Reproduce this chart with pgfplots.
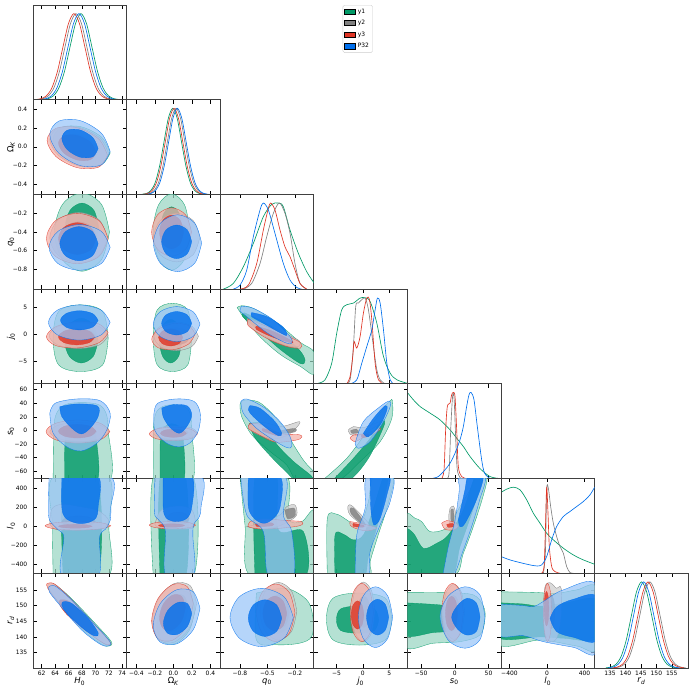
\documentclass[border=0pt]{standalone}
\usepackage{fontspec}
\setmainfont{DejaVu Sans}
\usepackage{pgfplots}
\pgfplotsset{compat=1.18}

\definecolor{cG}{HTML}{009966}
\definecolor{cK}{RGB}{128,128,128}
\definecolor{cR}{HTML}{E03424}
\definecolor{cB}{HTML}{006FED}

\pgfplotsset{
  tri/.style={scale only axis, width=93.6bp, height=94.7bp, anchor=south west,
    enlargelimits=false, clip=true,
    axis line style={draw=black!75, line width=0.8bp},
    tick align=inside, major tick length=3.8bp,
    tick style={black, line width=0.55bp},
    xticklabels={}, yticklabels={},
    tick label style={font=\fontsize{6}{7}\selectfont, inner sep=0pt},
    xticklabel style={yshift=-3bp},
    yticklabel style={xshift=-5.5bp},
    every axis x label/.style={at={(axis description cs:0.5,-0.143)}, anchor=center, font=\fontsize{8.5}{10}\selectfont},
    every axis y label/.style={at={(axis description cs:-0.235,0.5)}, anchor=center, rotate=90, font=\fontsize{8.5}{10}\selectfont}},
  oned/.style={ymin=0, ymax=1.1, ytick=\empty},
  Lo/.style={smooth, tension=0.55, draw=#1, line width=0.35bp, fill=#1!40!white, fill opacity=0.72, draw opacity=0.85},
  Li/.style={smooth, tension=0.55, draw=#1, line width=0.35bp, fill=#1, fill opacity=0.8, draw opacity=0.85},
  Ln/.style={smooth, tension=0.5, draw=#1, line width=0.65bp},
  % columns (x)
  cx0/.style={xmin=60.7, xmax=74.65, xtick={62,64,66,68,70,72,74}},
  cx1/.style={xmin=-0.505, xmax=0.505, xtick={-0.4,-0.2,0,0.2,0.4}},
  cx2/.style={xmin=-1.015, xmax=0.005, xtick={-0.8,-0.5,-0.2}},
  cx3/.style={xmin=-9.3, xmax=8.45, xtick={-5,0,5}},
  cx4/.style={xmin=-70.5, xmax=68.5, xtick={-50,0,50}},
  cx5/.style={xmin=-490, xmax=507, xtick={-400,0,400}},
  cx6/.style={xmin=130, xmax=160.3, xtick={135,140,145,150,155}},
  % rows (y)
  ry1/.style={ymin=-0.508, ymax=0.502, ytick={-0.4,-0.2,0,0.2,0.4}},
  ry2/.style={ymin=-1.012, ymax=0.003, ytick={-0.8,-0.6,-0.4,-0.2}},
  ry3/.style={ymin=-9.3, ymax=8.45, ytick={-5,0,5}},
  ry4/.style={ymin=-70.5, ymax=68.5, ytick={-60,-40,-20,0,20,40,60}},
  ry5/.style={ymin=-492, ymax=500, ytick={-400,-200,0,200,400}},
  ry6/.style={ymin=130.1, ymax=160.3, ytick={135,140,145,150,155}},
  % labels
  bx0/.style={xticklabels={62,64,66,68,70,72,74}, xlabel={\textit{H}\textsubscript{0}}},
  bx1/.style={xticklabels={−0.4,−0.2,0.0,0.2,0.4}, xlabel={Ω\textsubscript{\textit{K}}}},
  bx2/.style={xticklabels={−0.8,−0.5,−0.2}, xlabel={\textit{q}\textsubscript{0}}},
  bx3/.style={xticklabels={−5,0,5}, xlabel={\textit{j}\textsubscript{0}}},
  bx4/.style={xticklabels={−50,0,50}, xlabel={\textit{s}\textsubscript{0}}},
  bx5/.style={xticklabels={−400,0,400}, xlabel={\textit{l}\textsubscript{0}}},
  bx6/.style={xticklabels={135,140,145,150,155}, xlabel={\textit{r}\textsubscript{\textit{d}}}},
  ly1/.style={yticklabels={−0.4,−0.2,0.0,0.2,0.4}, ylabel={Ω\textsubscript{\textit{K}}}},
  ly2/.style={yticklabels={−0.8,−0.6,−0.4,−0.2}, ylabel={\textit{q}\textsubscript{0}}},
  ly3/.style={yticklabels={−5,0,5}, ylabel={\textit{j}\textsubscript{0}}},
  ly4/.style={yticklabels={−60,−40,−20,0,20,40,60}, ylabel={\textit{s}\textsubscript{0}}},
  ly5/.style={yticklabels={−400,−200,0,200,400}, ylabel={\textit{l}\textsubscript{0}}},
  ly6/.style={yticklabels={135,140,145,150,155}, ylabel={\textit{r}\textsubscript{\textit{d}}}},
}

\begin{document}
\begin{tikzpicture}
\useasboundingbox (0,0) rectangle (693bp,694bp);

%================ diagonal: 1D marginals ================
% H0
\begin{axis}[tri, at={(33bp,594.29bp)}, cx0, oned,
  legend image code/.code={\fill[sharp corners, #1] (0bp,-2.6bp) rectangle (11bp,2.6bp);},
  legend style={at={(axis description cs:3.309,1)}, anchor=north west, draw=black!20, rounded corners=1.5bp,
    fill=white, font=\fontsize{6}{7}\selectfont, inner sep=1.5bp, row sep=1.6bp, cells={anchor=west}}]
\addplot[Ln=cG, forget plot] coordinates {(62.08,.0022)(62.9,.0111)(63.73,.0439)(64.55,.1353)(65.38,.3247)(66.2,.6065)(67.03,.8825)(67.85,1)(68.68,.8825)(69.5,.6065)(70.33,.3247)(71.15,.1353)(71.98,.0439)(72.8,.0111)(73.63,.0022)};
\addplot[Ln=cK, forget plot] coordinates {(61.33,.0022)(62.15,.0111)(62.98,.0439)(63.8,.1353)(64.63,.3247)(65.45,.6065)(66.28,.8825)(67.1,1)(67.93,.8825)(68.75,.6065)(69.58,.3247)(70.4,.1353)(71.23,.0439)(72.05,.0111)(72.88,.0022)};
\addplot[Ln=cR, forget plot] coordinates {(61.03,.0022)(61.85,.0111)(62.68,.0439)(63.5,.1353)(64.33,.3247)(65.15,.6065)(65.98,.8825)(66.8,1)(67.63,.8825)(68.45,.6065)(69.28,.3247)(70.1,.1353)(70.93,.0439)(71.75,.0111)(72.58,.0022)};
\addplot[Ln=cB, forget plot] coordinates {(61.78,.0022)(62.6,.0111)(63.43,.0439)(64.25,.1353)(65.08,.3247)(65.9,.6065)(66.73,.8825)(67.55,1)(68.38,.8825)(69.2,.6065)(70.03,.3247)(70.85,.1353)(71.68,.0439)(72.5,.0111)(73.33,.0022)};
\addlegendimage{fill=cG}\addlegendentry{y1}
\addlegendimage{fill=cK}\addlegendentry{y2}
\addlegendimage{fill=cR}\addlegendentry{y3}
\addlegendimage{fill=cB}\addlegendentry{P32}
\end{axis}

% Omega_K
\begin{axis}[tri, at={(126.6bp,499.58bp)}, cx1, oned]
\addplot[Ln=cG] coordinates {(-0.34,.0022)(-0.292,.0111)(-0.245,.0439)(-0.197,.1353)(-0.15,.3247)(-0.102,.6065)(-0.055,.8825)(-0.007,1)(0.041,.8825)(0.088,.6065)(0.136,.3247)(0.183,.1353)(0.231,.0439)(0.278,.0111)(0.326,.0022)};
\addplot[Ln=cK] coordinates {(-0.304,.0022)(-0.256,.0111)(-0.209,.0439)(-0.161,.1353)(-0.114,.3247)(-0.066,.6065)(-0.019,.8825)(0.029,1)(0.077,.8825)(0.124,.6065)(0.172,.3247)(0.219,.1353)(0.267,.0439)(0.314,.0111)(0.362,.0022)};
\addplot[Ln=cR] coordinates {(-0.326,.0022)(-0.278,.0111)(-0.231,.0439)(-0.183,.1353)(-0.136,.3247)(-0.088,.6065)(-0.041,.8825)(0.007,1)(0.055,.8825)(0.102,.6065)(0.15,.3247)(0.197,.1353)(0.245,.0439)(0.292,.0111)(0.34,.0022)};
\addplot[Ln=cB] coordinates {(-0.29,.0022)(-0.242,.0111)(-0.195,.0439)(-0.147,.1353)(-0.1,.3247)(-0.052,.6065)(-0.005,.8825)(0.043,1)(0.091,.8825)(0.138,.6065)(0.186,.3247)(0.233,.1353)(0.281,.0439)(0.328,.0111)(0.376,.0022)};
\end{axis}

% q0
\begin{axis}[tri, at={(220.2bp,404.87bp)}, cx2, oned]
\addplot[Ln=cG] coordinates {(-0.981,0)(-0.872,.066)(-0.763,.26)(-0.654,.531)(-0.545,.841)(-0.454,.984)(-0.381,1.0)(-0.327,.957)(-0.254,.686)(-0.163,.415)(-0.072,.202)(0.007,.074)};
\addplot[Ln=cK] coordinates {(-0.763,0)(-0.672,.066)(-0.581,.298)(-0.508,.609)(-0.436,.88)(-0.37,1.0)(-0.309,.88)(-0.254,.647)(-0.2,.298)(-0.145,.066)(-0.072,0)};
\addplot[Ln=cR] coordinates {(-0.799,0)(-0.708,.047)(-0.617,.298)(-0.545,.686)(-0.49,.938)(-0.465,1.0)(-0.418,.919)(-0.363,.686)(-0.309,.492)(-0.254,.376)(-0.2,.221)(-0.145,.066)(-0.072,0)};
\addplot[Ln=cB] coordinates {(-0.872,0)(-0.799,.047)(-0.726,.221)(-0.654,.609)(-0.581,.919)(-0.545,1.0)(-0.49,.919)(-0.418,.647)(-0.327,.298)(-0.254,.105)(-0.181,.019)(-0.127,0)};
\end{axis}

% j0
\begin{axis}[tri, at={(313.8bp,310.16bp)}, cx3, oned]
\addplot[Ln=cG] coordinates {(-8.44,.008)(-7.17,.047)(-5.9,.24)(-4.95,.589)(-4.0,.86)(-3.05,.919)(-1.79,.938)(-0.52,.996)(0.43,1.0)(1.38,.957)(2.65,.705)(3.91,.318)(5.18,.124)(6.45,.047)(8.35,.008)};
\addplot[Ln=cK] coordinates {(-3.37,0)(-2.42,.047)(-1.79,.434)(-1.35,.9)(-0.84,.938)(-0.2,.977)(0.43,.996)(1.06,.86)(2.01,.434)(2.65,.163)(3.28,.047)(4.23,0)};
\addplot[Ln=cR] coordinates {(-3.05,0)(-2.42,.085)(-1.91,.318)(-1.66,.492)(-1.15,.415)(-0.52,.55)(0.11,.822)(0.75,.996)(1.25,.977)(1.7,.744)(2.33,.24)(2.96,.047)(3.91,0)};
\addplot[Ln=cB] coordinates {(-2.42,0)(-1.15,.047)(-0.2,.24)(0.75,.434)(1.7,.628)(2.33,.86)(2.77,.996)(3.28,.938)(3.91,.628)(4.55,.24)(5.18,.047)(5.81,0)};
\end{axis}

% s0
\begin{axis}[tri, at={(407.4bp,215.45bp)}, cx4, oned]
\addplot[Ln=cG] coordinates {(-70.6,1.0)(-61.7,.915)(-51.8,.837)(-36.9,.76)(-22.1,.682)(-7.2,.566)(2.7,.469)(12.6,.372)(22.5,.256)(36.8,.12)(52.2,.023)(67,0)};
\addplot[Ln=cK] coordinates {(-12.2,0)(-8.7,.062)(-6.2,.566)(-3.8,.915)(-2.3,.992)(-0.8,.876)(1.7,.372)(3.6,.101)(7.6,.012)(12.6,0)};
\addplot[Ln=cR] coordinates {(-19.6,0)(-16.1,.101)(-13.7,.566)(-11.2,.837)(-7.2,.876)(-4.8,.973)(-2.3,1.0)(0.2,.953)(2.7,.566)(5.1,.14)(10.1,.023)(17.5,0)};
\addplot[Ln=cB] coordinates {(-34.5,0)(-24.6,.023)(-14.7,.101)(-7.2,.178)(0.2,.295)(7.6,.45)(12.6,.605)(17.5,.837)(21,.973)(24,1.0)(28.4,.915)(33.3,.605)(39.8,.217)(44.2,.062)(52.2,0)};
\end{axis}

% l0
\begin{axis}[tri, at={(501.0bp,120.74bp)}, cx5, oned]
\addplot[Ln=cG] coordinates {(-490,.938)(-429.7,.977)(-358.7,1.0)(-287.7,.969)(-216.7,.853)(-145.6,.698)(-74.1,.581)(-3.6,.465)(67.3,.388)(173.9,.291)(280.3,.213)(386.8,.155)(507,.105)};
\addplot[Ln=cK] coordinates {(-38.7,0)(-17.3,.233)(-3.6,.969)(14,.988)(39,.775)(67.3,.581)(102.9,.426)(138.3,.31)(173.9,.233)(209.3,.078)(244.8,.008)(280.3,0)};
\addplot[Ln=cR] coordinates {(-56.9,0)(-31.5,.078)(-17.3,.504)(-3.6,1.0)(10.5,.698)(24.7,.31)(49.7,.078)(85.1,.019)(138.3,0)};
\addplot[Ln=cB] coordinates {(-490,.194)(-394.2,.155)(-287.7,.124)(-180.8,.097)(-110.2,.085)(-56.9,.097)(-3.6,.194)(49.7,.388)(102.9,.543)(173.9,.659)(244.8,.717)(315.8,.775)(386.8,.833)(457.8,.911)(507,1.0)};
\end{axis}

% r_d
\begin{axis}[tri, at={(594.6bp,26.03bp)}, cx6, oned, bx6]
\addplot[Ln=cG] coordinates {(133.65,.0022)(135.3,.0111)(136.95,.0439)(138.6,.1353)(140.25,.3247)(141.9,.6065)(143.55,.8825)(145.2,1)(146.85,.8825)(148.5,.6065)(150.15,.3247)(151.8,.1353)(153.45,.0439)(155.1,.0111)(156.75,.0022)};
\addplot[Ln=cK] coordinates {(136.35,.0022)(138,.0111)(139.65,.0439)(141.3,.1353)(142.95,.3247)(144.6,.6065)(146.25,.8825)(147.9,1)(149.55,.8825)(151.2,.6065)(152.85,.3247)(154.5,.1353)(156.15,.0439)(157.8,.0111)(159.45,.0022)};
\addplot[Ln=cR] coordinates {(135.75,.0022)(137.4,.0111)(139.05,.0439)(140.7,.1353)(142.35,.3247)(144,.6065)(145.65,.8825)(147.3,1)(148.95,.8825)(150.6,.6065)(152.25,.3247)(153.9,.1353)(155.55,.0439)(157.2,.0111)(158.85,.0022)};
\addplot[Ln=cB] coordinates {(134.35,.0022)(136,.0111)(137.65,.0439)(139.3,.1353)(140.95,.3247)(142.6,.6065)(144.25,.8825)(145.9,1)(147.55,.8825)(149.2,.6065)(150.85,.3247)(152.5,.1353)(154.15,.0439)(155.8,.0111)(157.45,.0022)};
\end{axis}

%================ row 1: Omega_K ================
\begin{axis}[tri, at={(33bp,499.58bp)}, cx0, ry1, ly1]
\addplot[Lo=cG] coordinates {(72.2,-0.066)(70.96,0.1)(67.95,0.212)(64.95,0.207)(63.7,0.086)(64.95,-0.08)(67.95,-0.192)(70.96,-0.187)(72.2,-0.066)} -- cycle;
\addplot[Li=cG] coordinates {(70.55,-0.037)(69.79,0.066)(67.95,0.136)(66.11,0.132)(65.35,0.057)(66.11,-0.046)(67.95,-0.116)(69.79,-0.112)(70.55,-0.037)} -- cycle;
\addplot[Lo=cK] coordinates {(72.0,-0.077)(70.71,0.091)(67.6,0.206)(64.49,0.2)(63.2,0.077)(64.49,-0.091)(67.6,-0.206)(70.71,-0.2)(72.0,-0.077)} -- cycle;
\addplot[Li=cK] coordinates {(70.3,-0.048)(69.51,0.056)(67.6,0.127)(65.69,0.124)(64.9,0.048)(65.69,-0.056)(67.6,-0.127)(69.51,-0.124)(70.3,-0.048)} -- cycle;
\addplot[Lo=cR] coordinates {(71.8,-0.089)(70.48,0.084)(67.3,0.203)(64.12,0.197)(62.8,0.069)(64.12,-0.104)(67.3,-0.223)(70.48,-0.217)(71.8,-0.089)} -- cycle;
\addplot[Li=cR] coordinates {(70.1,-0.059)(69.28,0.048)(67.3,0.121)(65.32,0.117)(64.5,0.039)(65.32,-0.068)(67.3,-0.141)(69.28,-0.137)(70.1,-0.059)} -- cycle;
\addplot[Lo=cB] coordinates {(72.2,-0.05)(70.88,0.146)(67.7,0.28)(64.52,0.273)(63.2,0.13)(64.52,-0.066)(67.7,-0.2)(70.88,-0.193)(72.2,-0.05)} -- cycle;
\addplot[Li=cB] coordinates {(70.4,-0.019)(69.61,0.099)(67.7,0.18)(65.79,0.176)(65.0,0.089)(65.79,-0.029)(67.7,-0.11)(69.61,-0.106)(70.4,-0.019)} -- cycle;
\end{axis}

%================ row 2: q0 ================
\begin{axis}[tri, at={(33bp,404.87bp)}, cx0, ry2, ly2]
\addplot[Lo=cG] coordinates {(72.1,-0.4)(70.9,-0.103)(68.0,0.02)(65.1,-0.103)(63.9,-0.4)(65.1,-0.697)(68.0,-0.82)(70.9,-0.697)(72.1,-0.4)} -- cycle;
\addplot[Li=cG] coordinates {(70.5,-0.35)(69.77,-0.166)(68,-0.09)(66.23,-0.166)(65.5,-0.35)(66.23,-0.534)(68,-0.61)(69.77,-0.534)(70.5,-0.35)} -- cycle;
\addplot[Lo=cK] coordinates {(71.8,-0.46)(70.54,-0.269)(67.5,-0.19)(64.46,-0.269)(63.2,-0.46)(64.46,-0.651)(67.5,-0.73)(70.54,-0.651)(71.8,-0.46)} -- cycle;
\addplot[Li=cK] coordinates {(70.2,-0.46)(69.41,-0.34)(67.5,-0.29)(65.59,-0.34)(64.8,-0.46)(65.59,-0.58)(67.5,-0.63)(69.41,-0.58)(70.2,-0.46)} -- cycle;
\addplot[Lo=cR] coordinates {(71.9,-0.47)(70.55,-0.279)(67.3,-0.2)(64.05,-0.279)(62.7,-0.47)(64.05,-0.661)(67.3,-0.74)(70.55,-0.661)(71.9,-0.47)} -- cycle;
\addplot[Li=cR] coordinates {(70.1,-0.47)(69.28,-0.35)(67.3,-0.3)(65.32,-0.35)(64.5,-0.47)(65.32,-0.59)(67.3,-0.64)(69.28,-0.59)(70.1,-0.47)} -- cycle;
\addplot[Lo=cB] coordinates {(72.2,-0.565)(70.87,-0.392)(67.65,-0.32)(64.43,-0.392)(63.1,-0.565)(64.43,-0.738)(67.65,-0.81)(70.87,-0.738)(72.2,-0.565)} -- cycle;
\addplot[Li=cB] coordinates {(70.4,-0.525)(69.57,-0.396)(67.55,-0.342)(65.54,-0.396)(64.7,-0.525)(65.54,-0.654)(67.55,-0.708)(69.57,-0.654)(70.4,-0.525)} -- cycle;
\end{axis}

\begin{axis}[tri, at={(126.6bp,404.87bp)}, cx1, ry2]
\addplot[Lo=cG] coordinates {(0.18,-0.4)(0.121,-0.11)(-0.02,0.01)(-0.161,-0.11)(-0.22,-0.4)(-0.161,-0.69)(-0.02,-0.81)(0.121,-0.69)(0.18,-0.4)} -- cycle;
\addplot[Li=cG] coordinates {(0.1,-0.38)(0.065,-0.203)(-0.02,-0.13)(-0.105,-0.203)(-0.14,-0.38)(-0.105,-0.557)(-0.02,-0.63)(0.065,-0.557)(0.1,-0.38)} -- cycle;
\addplot[Lo=cK] coordinates {(0.285,-0.46)(0.212,-0.276)(0.035,-0.2)(-0.142,-0.276)(-0.215,-0.46)(-0.142,-0.644)(0.035,-0.72)(0.212,-0.644)(0.285,-0.46)} -- cycle;
\addplot[Li=cK] coordinates {(0.185,-0.46)(0.141,-0.347)(0.035,-0.3)(-0.071,-0.347)(-0.115,-0.46)(-0.071,-0.573)(0.035,-0.62)(0.141,-0.573)(0.185,-0.46)} -- cycle;
\addplot[Lo=cR] coordinates {(0.195,-0.4)(0.132,-0.216)(-0.02,-0.14)(-0.172,-0.216)(-0.235,-0.4)(-0.172,-0.584)(-0.02,-0.66)(0.132,-0.584)(0.195,-0.4)} -- cycle;
\addplot[Li=cR] coordinates {(0.11,-0.4)(0.072,-0.273)(-0.02,-0.22)(-0.112,-0.273)(-0.15,-0.4)(-0.112,-0.527)(-0.02,-0.58)(0.072,-0.527)(0.11,-0.4)} -- cycle;
\addplot[Lo=cB] coordinates {(0.305,-0.52)(0.229,-0.304)(0.045,-0.215)(-0.139,-0.304)(-0.215,-0.52)(-0.139,-0.736)(0.045,-0.825)(0.229,-0.736)(0.305,-0.52)} -- cycle;
\addplot[Li=cB] coordinates {(0.197,-0.505)(0.15,-0.378)(0.035,-0.325)(-0.08,-0.378)(-0.127,-0.505)(-0.08,-0.632)(0.035,-0.685)(0.15,-0.632)(0.197,-0.505)} -- cycle;
\end{axis}

%================ row 3: j0 ================
\begin{axis}[tri, at={(33bp,310.16bp)}, cx0, ry3, ly3]
\addplot[Lo=cG] coordinates {(71.9,-0.75)(71.08,4.25)(67.8,5.5)(64.52,4.25)(63.7,-0.75)(64.52,-5.75)(67.8,-7.0)(71.08,-5.75)(71.9,-0.75)} -- cycle;
\addplot[Li=cG] coordinates {(70.4,-1.2)(69.67,1.77)(67.9,3.0)(66.13,1.77)(65.4,-1.2)(66.13,-4.17)(67.9,-5.4)(69.67,-4.17)(70.4,-1.2)} -- cycle;
\addplot[Lo=cK] coordinates {(71.9,-0.3)(70.61,1.4)(67.5,2.1)(64.39,1.4)(63.1,-0.3)(64.39,-2.0)(67.5,-2.7)(70.61,-2.0)(71.9,-0.3)} -- cycle;
\addplot[Li=cK] coordinates {(70.1,-0.4)(69.34,0.59)(67.5,1.0)(65.66,0.59)(64.9,-0.4)(65.66,-1.39)(67.5,-1.8)(69.34,-1.39)(70.1,-0.4)} -- cycle;
\addplot[Lo=cR] coordinates {(71.9,0.275)(70.55,1.91)(67.3,2.37)(64.05,1.38)(62.7,-0.475)(64.05,-2.11)(67.3,-2.57)(70.55,-1.58)(71.9,0.275)} -- cycle;
\addplot[Li=cR] coordinates {(69.9,-0.5)(69.11,0.56)(67.2,1.0)(65.29,0.56)(64.5,-0.5)(65.29,-1.56)(67.2,-2.0)(69.11,-1.56)(69.9,-0.5)} -- cycle;
\addplot[Lo=cB] coordinates {(72.2,2.2)(70.85,4.53)(67.6,5.5)(64.35,4.53)(63.0,2.2)(64.35,-0.13)(67.6,-1.1)(70.85,-0.13)(72.2,2.2)} -- cycle;
\addplot[Li=cB] coordinates {(70.4,2.6)(69.58,3.87)(67.6,4.4)(65.62,3.87)(64.8,2.6)(65.62,1.33)(67.6,0.8)(69.58,1.33)(70.4,2.6)} -- cycle;
\end{axis}

\begin{axis}[tri, at={(126.6bp,310.16bp)}, cx1, ry3]
\addplot[Lo=cG] coordinates {(0.197,-0.6)(0.156,4.52)(-0.01,5.8)(-0.176,4.52)(-0.217,-0.6)(-0.176,-5.72)(-0.01,-7.0)(0.156,-5.72)(0.197,-0.6)} -- cycle;
\addplot[Li=cG] coordinates {(0.09,-1.3)(0.055,1.6)(-0.03,2.8)(-0.115,1.6)(-0.15,-1.3)(-0.115,-4.2)(-0.03,-5.4)(0.055,-4.2)(0.09,-1.3)} -- cycle;
\addplot[Lo=cK] coordinates {(0.27,-0.4)(0.2,1.51)(0.03,2.3)(-0.14,1.51)(-0.21,-0.4)(-0.14,-2.31)(0.03,-3.1)(0.2,-2.31)(0.27,-0.4)} -- cycle;
\addplot[Li=cK] coordinates {(0.18,-0.4)(0.136,0.73)(0.03,1.2)(-0.076,0.73)(-0.12,-0.4)(-0.076,-1.53)(0.03,-2.0)(0.136,-1.53)(0.18,-0.4)} -- cycle;
\addplot[Lo=cR] coordinates {(0.234,0.05)(0.165,1.635)(0,2.0)(-0.165,0.928)(-0.234,-0.95)(-0.165,-2.535)(0,-2.9)(0.165,-1.828)(0.234,0.05)} -- cycle;
\addplot[Li=cR] coordinates {(0.1,-0.6)(0.062,0.53)(-0.03,1.0)(-0.122,0.53)(-0.16,-0.6)(-0.122,-1.73)(-0.03,-2.2)(0.062,-1.73)(0.1,-0.6)} -- cycle;
\addplot[Lo=cB] coordinates {(0.287,1.9)(0.213,4.22)(0.035,5.18)(-0.143,4.22)(-0.217,1.9)(-0.143,-0.42)(0.035,-1.38)(0.213,-0.42)(0.287,1.9)} -- cycle;
\addplot[Li=cB] coordinates {(0.197,2.05)(0.15,3.61)(0.035,4.25)(-0.08,3.61)(-0.127,2.05)(-0.08,0.49)(0.035,-0.15)(0.15,0.49)(0.197,2.05)} -- cycle;
\end{axis}

\begin{axis}[tri, at={(220.2bp,310.16bp)}, cx2, ry3]
\addplot[Lo=cG] coordinates {(-0.83,5.0)(-0.78,5.35)(-0.65,4.8)(-0.4,2.2)(-0.145,-1.5)(0.01,-3.4)(0.01,-7.5)(-0.145,-6.0)(-0.36,-3.8)(-0.58,-0.5)(-0.76,3.2)(-0.83,5.0)} -- cycle;
\addplot[Li=cG] coordinates {(-0.75,4.0)(-0.55,2.4)(-0.35,0.2)(-0.15,-3.0)(-0.09,-4.9)(-0.14,-5.5)(-0.35,-3.0)(-0.55,0.0)(-0.77,3.3)(-0.75,4.0)} -- cycle;
\addplot[Lo=cK] coordinates {(-0.72,3.0)(-0.47,1.5)(-0.22,-0.6)(-0.15,-1.3)(-0.16,-2.3)(-0.3,-2.1)(-0.52,-0.5)(-0.7,1.6)(-0.72,3.0)} -- cycle;
\addplot[Li=cK] coordinates {(-0.6,1.8)(-0.42,0.8)(-0.24,-0.9)(-0.25,-1.4)(-0.43,-0.3)(-0.6,1.1)(-0.6,1.8)} -- cycle;
\addplot[Lo=cR] coordinates {(-0.71,2.8)(-0.47,1.2)(-0.25,-0.6)(-0.14,-1.6)(-0.14,-2.6)(-0.29,-2.3)(-0.51,-0.76)(-0.69,1.3)(-0.72,2.1)(-0.71,2.8)} -- cycle;
\addplot[Li=cR] coordinates {(-0.62,1.5)(-0.45,0.6)(-0.25,-1.1)(-0.24,-1.6)(-0.45,-0.5)(-0.62,0.9)(-0.62,1.5)} -- cycle;
\addplot[Lo=cB] coordinates {(-0.78,5.24)(-0.654,4.86)(-0.436,2.68)(-0.254,-0.45)(-0.236,-1.69)(-0.309,-1.56)(-0.508,0.3)(-0.726,3.3)(-0.8,4.4)(-0.78,5.24)} -- cycle;
\addplot[Li=cB] coordinates {(-0.672,4.05)(-0.508,3.3)(-0.327,1.3)(-0.29,-0.2)(-0.363,0.3)(-0.545,2.05)(-0.672,3.3)(-0.672,4.05)} -- cycle;
\end{axis}

%================ row 4: s0 ================
\begin{axis}[tri, at={(33bp,215.45bp)}, cx0, ry4, ly4]
\addplot[Lo=cG] coordinates {(63.7,-75)(63.8,0)(64.2,25)(65.5,38)(68,41)(70.5,38)(71.6,25)(71.9,0)(72,-75)(63.7,-75)} -- cycle;
\addplot[Li=cG] coordinates {(65.4,-75)(65.5,-10)(66.2,5)(67.8,10)(69.4,5)(70.1,-10)(70.2,-75)(65.4,-75)} -- cycle;
\addplot[Lo=cK] coordinates {(72.0,-2)(70.71,7.9)(67.6,12)(64.49,7.9)(63.2,-2)(64.49,-11.9)(67.6,-16)(70.71,-11.9)(72.0,-2)} -- cycle;
\addplot[Li=cK] coordinates {(70.2,-2)(69.44,3.66)(67.6,6)(65.76,3.66)(65.0,-2)(65.76,-7.66)(67.6,-10)(69.44,-7.66)(70.2,-2)} -- cycle;
\addplot[Lo=cR] coordinates {(72.15,-1.5)(70.76,10.5)(67.4,15.5)(64.04,10.5)(62.65,-1.5)(64.04,-13.5)(67.4,-18.5)(70.76,-13.5)(72.15,-1.5)} -- cycle;
\addplot[Li=cR] coordinates {(70.1,-1)(69.28,6.07)(67.3,9)(65.32,6.07)(64.5,-1)(65.32,-8.07)(67.3,-11)(69.28,-8.07)(70.1,-1)} -- cycle;
\addplot[Lo=cB] coordinates {(63.2,25.3)(64.0,40)(67.2,46.3)(70.7,43.8)(72.2,25.3)(71.7,0.8)(70.2,-18.7)(67.9,-30)(65.7,-23.7)(63.7,-4)(63.2,25.3)} -- cycle;
\addplot[Li=cB] coordinates {(64.7,35)(67.2,39)(70.3,36)(70.4,20.4)(69.2,3.3)(67.9,-5)(66.5,3.3)(65.0,20.4)(64.7,35)} -- cycle;
\end{axis}

\begin{axis}[tri, at={(126.6bp,215.45bp)}, cx1, ry4]
\addplot[Lo=cG] coordinates {(-0.217,-75)(-0.215,0)(-0.19,25)(-0.12,35)(0.0,38)(0.12,35)(0.18,25)(0.198,0)(0.2,-75)(-0.217,-75)} -- cycle;
\addplot[Li=cG] coordinates {(-0.144,-75)(-0.14,-10)(-0.1,5)(-0.02,10)(0.07,5)(0.105,-10)(0.107,-75)(-0.144,-75)} -- cycle;
\addplot[Lo=cK] coordinates {(0.26,-3)(0.19,4.07)(0.02,7)(-0.15,4.07)(-0.22,-3)(-0.15,-10.07)(0.02,-13)(0.19,-10.07)(0.26,-3)} -- cycle;
\addplot[Li=cK] coordinates {(0.16,-3)(0.119,1.24)(0.02,3)(-0.079,1.24)(-0.12,-3)(-0.079,-7.24)(0.02,-9)(0.119,-7.24)(0.16,-3)} -- cycle;
\addplot[Lo=cR] coordinates {(0.26,-5)(0.184,2.07)(0,5)(-0.184,2.07)(-0.26,-5)(-0.184,-12.07)(0,-15)(0.184,-12.07)(0.26,-5)} -- cycle;
\addplot[Li=cR] coordinates {(0.14,-4)(0.099,0.24)(0,2)(-0.099,0.24)(-0.14,-4)(-0.099,-8.24)(0,-10)(0.099,-8.24)(0.14,-4)} -- cycle;
\addplot[Lo=cB] coordinates {(-0.21,25)(-0.17,40)(0.02,46.3)(0.22,43)(0.29,25)(0.27,0)(0.18,-18)(0.06,-24)(-0.08,-18)(-0.2,0)(-0.21,25)} -- cycle;
\addplot[Li=cB] coordinates {(-0.125,33)(0.0,38)(0.15,36)(0.198,22)(0.14,5)(0.06,-4)(-0.04,5)(-0.11,20)(-0.125,33)} -- cycle;
\end{axis}

\begin{axis}[tri, at={(220.2bp,215.45bp)}, cx2, ry4]
\addplot[Lo=cG] coordinates {(-0.80,37.5)(-0.76,44.5)(-0.6,42)(-0.45,25)(-0.3,0)(-0.22,-20)(-0.1,-45)(0.01,-62)(0.01,-75)(-0.18,-75)(-0.29,-50.6)(-0.47,-31)(-0.67,-6.5)(-0.78,20)(-0.80,37.5)} -- cycle;
\addplot[Li=cG] coordinates {(-0.70,10)(-0.55,10)(-0.4,-20)(-0.22,-45)(-0.02,-67)(-0.02,-75)(-0.18,-75)(-0.3,-60)(-0.45,-40)(-0.63,-12)(-0.70,10)} -- cycle;
\addplot[Lo=cK] coordinates {(-0.71,8)(-0.55,12)(-0.35,6)(-0.15,13)(-0.2,2)(-0.3,-8)(-0.45,-12)(-0.65,-3)(-0.71,8)} -- cycle;
\addplot[Li=cK] coordinates {(-0.35,0)(-0.2,3)(-0.2,-2)(-0.35,-4)(-0.35,0)} -- cycle;
\addplot[Lo=cR] coordinates {(-0.69,10.6)(-0.545,8.2)(-0.363,-4.1)(-0.145,-6.5)(-0.145,-12.4)(-0.29,-16.3)(-0.436,-16.3)(-0.62,-4.1)(-0.708,3.3)(-0.69,10.6)} -- cycle;
\addplot[Li=cR] coordinates {(-0.55,3)(-0.36,-4)(-0.38,-8)(-0.55,-1)(-0.55,3)} -- cycle;
\addplot[Lo=cB] coordinates {(-0.79,42.4)(-0.726,46.3)(-0.545,34.6)(-0.363,13.1)(-0.254,-8.9)(-0.236,-23.6)(-0.29,-25)(-0.436,-13.9)(-0.62,3.3)(-0.763,25.3)(-0.79,42.4)} -- cycle;
\addplot[Li=cB] coordinates {(-0.69,36.5)(-0.581,32.6)(-0.418,13.1)(-0.345,-4.1)(-0.381,-7.5)(-0.508,3.3)(-0.654,20.4)(-0.708,30.2)(-0.69,36.5)} -- cycle;
\end{axis}

\begin{axis}[tri, at={(313.8bp,215.45bp)}, cx3, ry4]
\addplot[Lo=cG] coordinates {(-7.49,-72)(-3.05,-40.8)(0.75,-1.6)(3.91,32.6)(5.18,43.4)(5.6,44)(5.5,17.9)(3.28,-16.3)(-0.52,-45.7)(-4.32,-72)(-7.49,-72)} -- cycle;
\addplot[Li=cG] coordinates {(-5.59,-72)(-1.79,-40.8)(1.38,-11.4)(3.2,12)(4.0,15)(3.91,5)(1.06,-40.8)(-2.42,-72)(-5.59,-72)} -- cycle;
\addplot[Lo=cK] coordinates {(-2.74,0.83)(-1.79,5.7)(0.11,4.25)(3.28,13.1)(2.96,8.2)(0.75,-1.6)(-0.84,-7.5)(-2.42,-5.5)(-2.74,0.83)} -- cycle;
\addplot[Li=cK] coordinates {(-2.3,0)(-1.2,2)(-0.8,-3)(-2.1,-4)(-2.3,0)} -- cycle;
\addplot[Lo=cR] coordinates {(-2.42,-11.4)(-1.79,-6.5)(0.75,-4.1)(3.28,3.3)(2.65,-2.6)(0.43,-9)(-1.47,-16.3)(-2.42,-11.4)} -- cycle;
\addplot[Li=cR] coordinates {(-0.2,-6)(1.06,-5)(1.0,-9)(-0.2,-10)(-0.2,-6)} -- cycle;
\addplot[Lo=cB] coordinates {(-1.47,-18.7)(0.11,13.1)(3.28,35.1)(5.05,43.4)(5.18,35.1)(3.91,13.1)(1.38,-16.3)(-0.84,-26.1)(-1.47,-18.7)} -- cycle;
\addplot[Li=cB] coordinates {(0.11,-4.1)(2.01,17.9)(4.23,36.5)(4.55,30.2)(3.28,8.2)(1.06,-9)(0.11,-4.1)} -- cycle;
\end{axis}

%================ row 5: l0 ================
\begin{axis}[tri, at={(33bp,120.74bp)}, cx0, ry5, ly5]
\addplot[Lo=cG] coordinates {(63.7,-520)(63.6,0)(63.7,520)(71.9,520)(72.0,0)(71.9,-520)(63.7,-520)} -- cycle;
\addplot[Li=cG] coordinates {(65.2,-520)(65.3,520)(70.3,520)(70.4,-520)(65.2,-520)} -- cycle;
\addplot[Lo=cK] coordinates {(63.2,30)(63.5,180)(65,230)(68,200)(70.5,160)(72,60)(71,-20)(67,-40)(64,-30)(63.2,30)} -- cycle;
\addplot[Li=cK] coordinates {(70,50)(69.27,92.4)(67.5,110)(65.73,92.4)(65,50)(65.73,7.6)(67.5,-10)(69.27,7.6)(70,50)} -- cycle;
\addplot[Lo=cR] coordinates {(72.3,5)(70.86,36.8)(67.4,50)(63.94,36.8)(62.5,5)(63.94,-26.8)(67.4,-40)(70.86,-26.8)(72.3,5)} -- cycle;
\addplot[Li=cR] coordinates {(69.5,0)(68.77,14.1)(67,20)(65.23,14.1)(64.5,0)(65.23,-14.1)(67,-20)(68.77,-14.1)(69.5,0)} -- cycle;
\addplot[Lo=cB] coordinates {(63.1,520)(63.0,200)(63.2,60)(64.5,-40)(65.3,-120)(65.0,-520)(70.4,-520)(70.6,-120)(71.5,-30)(72.2,60)(72.3,200)(72.2,520)(63.1,520)} -- cycle;
\addplot[Li=cB] coordinates {(65.0,520)(65.0,200)(65.5,90)(66.8,40)(67.8,30)(69.0,40)(70.1,90)(70.4,200)(70.4,520)(65.0,520)} -- cycle;
\end{axis}

\begin{axis}[tri, at={(126.6bp,120.74bp)}, cx1, ry5]
\addplot[Lo=cG] coordinates {(-0.217,-520)(-0.215,520)(0.215,520)(0.22,-520)(-0.217,-520)} -- cycle;
\addplot[Li=cG] coordinates {(-0.144,-520)(-0.14,520)(0.13,520)(0.135,-520)(-0.144,-520)} -- cycle;
\addplot[Lo=cK] coordinates {(-0.2,20)(-0.15,150)(-0.05,200)(0.1,210)(0.2,170)(0.235,60)(0.2,-20)(0,-30)(-0.15,-20)(-0.2,20)} -- cycle;
\addplot[Li=cK] coordinates {(0.17,80)(0.135,129.5)(0.05,150)(-0.035,129.5)(-0.07,80)(-0.035,30.5)(0.05,10)(0.135,30.5)(0.17,80)} -- cycle;
\addplot[Lo=cR] coordinates {(0.24,12)(0.167,38.9)(-0.01,50)(-0.187,38.9)(-0.26,12)(-0.187,-14.9)(-0.01,-26)(0.167,-14.9)(0.24,12)} -- cycle;
\addplot[Li=cR] coordinates {(0.12,8)(0.079,20.7)(-0.02,26)(-0.119,20.7)(-0.16,8)(-0.119,-4.7)(-0.02,-10)(0.079,-4.7)(0.12,8)} -- cycle;
\addplot[Lo=cB] coordinates {(-0.2,520)(-0.205,150)(-0.17,80)(-0.1,0)(-0.085,-100)(-0.08,-520)(0.215,-520)(0.21,-100)(0.22,20)(0.28,100)(0.298,200)(0.3,520)(-0.2,520)} -- cycle;
\addplot[Li=cB] coordinates {(-0.11,520)(-0.11,200)(-0.08,90)(0.02,50)(0.14,80)(0.198,200)(0.2,520)(-0.11,520)} -- cycle;
\end{axis}

\begin{axis}[tri, at={(220.2bp,120.74bp)}, cx2, ry5]
\addplot[Lo=cG] coordinates {(-0.80,520)(-0.745,14)(-0.683,-520)(0.02,-520)(0.02,150)(-0.127,49)(-0.272,84)(-0.29,520)(-0.80,520)} -- cycle;
\addplot[Li=cG] coordinates {(-0.636,-520)(-0.636,520)(-0.399,520)(-0.381,-38)(-0.109,-55)(-0.09,-520)(-0.636,-520)} -- cycle;
\addplot[Lo=cK] coordinates {(-0.726,-3.3)(-0.581,31.7)(-0.363,119)(-0.29,206)(-0.2,223.6)(-0.181,119)(-0.272,49)(-0.399,-3.3)(-0.581,-27.7)(-0.726,-3.3)} -- cycle;
\addplot[Li=cK] coordinates {(-0.31,170)(-0.21,190)(-0.2,110)(-0.28,80)(-0.31,170)} -- cycle;
\addplot[Lo=cR] coordinates {(-0.69,49)(-0.545,77)(-0.29,59.6)(-0.127,49)(-0.145,7.2)(-0.363,-20.7)(-0.581,-27.7)(-0.708,-3.3)(-0.69,49)} -- cycle;
\addplot[Li=cR] coordinates {(-0.62,30)(-0.45,35)(-0.45,5)(-0.62,0)(-0.62,30)} -- cycle;
\addplot[Lo=cB] coordinates {(-0.792,520)(-0.726,119)(-0.545,-56)(-0.49,-520)(-0.218,-520)(-0.236,-56)(-0.327,119)(-0.309,520)(-0.792,520)} -- cycle;
\addplot[Li=cB] coordinates {(-0.708,520)(-0.708,200)(-0.64,80)(-0.545,32)(-0.45,70)(-0.363,200)(-0.363,520)(-0.708,520)} -- cycle;
\end{axis}

\begin{axis}[tri, at={(313.8bp,120.74bp)}, cx3, ry5]
\addplot[Lo=cG] coordinates {(-6.73,-520)(-6.73,84)(-4.95,126)(-3.05,66.5)(-1.47,14.2)(-0.2,49)(1.06,258.5)(2.01,520)(5.8,520)(4.55,188.7)(2.96,-83.5)(1.38,-370)(1.06,-520)(-6.73,-520)} -- cycle;
\addplot[Li=cG] coordinates {(-5.27,-520)(-5.27,-90.5)(-3.69,-83.5)(-1.79,-142.9)(0.11,-90.5)(2.01,188.7)(3.91,520)(4.86,520)(3.28,119)(1.06,-320)(0.11,-520)(-5.27,-520)} -- cycle;
\addplot[Lo=cK] coordinates {(-2.86,206)(-2.1,216.6)(1.06,31.7)(0.43,-3.3)(-2.42,119)(-2.86,206)} -- cycle;
\addplot[Li=cK] coordinates {(-2.4,180)(-1.8,190)(0.4,30)(0.0,15)(-2.2,130)(-2.4,180)} -- cycle;
\addplot[Lo=cR] coordinates {(-2.42,49)(-0.52,31.7)(2.01,-3.3)(2.65,-20.7)(0.75,-48.6)(-1.47,-20.7)(-2.42,14.2)(-2.42,49)} -- cycle;
\addplot[Li=cR] coordinates {(-1.8,30)(0.1,10)(0.0,-10)(-1.8,0)(-1.8,30)} -- cycle;
\addplot[Lo=cB] coordinates {(-1.47,-520)(-1.15,-90.5)(0.43,188.7)(0.75,520)(5.69,520)(5.18,258.5)(3.28,14.2)(1.38,-265)(1.06,-520)(-1.47,-520)} -- cycle;
\addplot[Li=cB] coordinates {(1.38,520)(1.51,188.7)(1.9,40)(2.33,14)(3.28,84)(4.55,328)(5.05,520)(1.38,520)} -- cycle;
\end{axis}

\begin{axis}[tri, at={(407.4bp,120.74bp)}, cx4, ry5]
\addplot[Lo=cG] coordinates {(-74,-520)(-74,101)(-59.2,84)(-49.3,49)(-36.9,-55.6)(-17.1,-38.2)(-7.2,31.7)(7.6,206)(22.5,381)(31.9,520)(47.7,520)(41.7,311)(27.4,-3.3)(12.6,-282)(-2.3,-520)(-74,-520)} -- cycle;
\addplot[Li=cG] coordinates {(-74,-520)(-74,-55.6)(-61.7,-73)(-46.8,-230)(-27,-178)(-9.7,-90.5)(12.6,171)(29.9,520)(41.7,520)(24.9,136)(7.6,-213)(-7.2,-520)(-74,-520)} -- cycle;
\addplot[Lo=cK] coordinates {(-7.2,188.7)(-2.3,213.1)(1.2,136.4)(0.2,31.7)(-7.2,24.7)(-9.2,101.4)(-7.2,188.7)} -- cycle;
\addplot[Li=cK] coordinates {(-6,170)(-2.5,180)(-1.3,60)(-5.5,50)(-6,170)} -- cycle;
\addplot[Lo=cR] coordinates {(-19.6,31.7)(-12.2,59.5)(0.2,38.6)(5.1,-3.3)(-2.3,-38.2)(-14.7,-31.1)(-19.6,31.7)} -- cycle;
\addplot[Li=cR] coordinates {(-12,20)(-3,30)(-1,0)(-10,-10)(-12,20)} -- cycle;
\addplot[Lo=cB] coordinates {(-18.1,-520)(-9.7,-213)(0.2,66.5)(6.6,381)(7.6,520)(44.2,520)(36.8,276)(24.9,-3.3)(12.6,-248)(-2.3,-520)(-18.1,-520)} -- cycle;
\addplot[Li=cB] coordinates {(5.1,66.5)(15,380.6)(20,520)(41.7,520)(31.9,276)(15,31.7)(7.6,-3.3)(5.1,66.5)} -- cycle;
\end{axis}

%================ row 6: r_d ================
\begin{axis}[tri, at={(33bp,26.03bp)}, cx0, ry6, ly6, bx0]
\addplot[Lo=cG] coordinates {(63.28,156.0)(64.18,156.25)(66.4,152.3)(70.4,143.3)(72.37,138.5)(72.12,137.1)(70.9,137.7)(68.16,142.2)(64.67,150.7)(63.33,154.4)(63.28,156.0)} -- cycle;
\addplot[Li=cG] coordinates {(65.4,150.9)(66.67,150.4)(69.14,145.6)(70.63,140.9)(70.14,140.0)(68.65,141.9)(66.16,146.7)(65.18,149.9)(65.4,150.9)} -- cycle;
\addplot[Lo=cK] coordinates {(62.9,156.7)(63.87,156.9)(65.87,153.2)(69.85,144.1)(72.07,138.8)(72.3,137.5)(71.35,137.8)(68.35,142.6)(64.35,151.6)(63.05,155.3)(62.9,156.7)} -- cycle;
\addplot[Li=cK] coordinates {(65.0,151.6)(66.27,151.1)(68.74,146.3)(70.23,141.6)(69.74,140.7)(68.25,142.6)(65.76,147.4)(64.78,150.6)(65.0,151.6)} -- cycle;
\addplot[Lo=cR] coordinates {(62.74,156.9)(63.72,157.1)(65.72,153.4)(69.7,144.3)(71.92,139.0)(72.17,137.7)(71.2,138.0)(68.2,142.8)(64.2,151.8)(62.9,155.5)(62.74,156.9)} -- cycle;
\addplot[Li=cR] coordinates {(64.8,151.8)(66.07,151.3)(68.54,146.5)(70.03,141.8)(69.54,140.9)(68.05,142.8)(65.56,147.6)(64.58,150.8)(64.8,151.8)} -- cycle;
\addplot[Lo=cB] coordinates {(63.08,156.0)(63.98,156.25)(66.2,152.3)(70.2,143.3)(72.17,138.5)(71.92,137.1)(70.7,137.7)(67.96,142.2)(64.47,150.7)(63.13,154.4)(63.08,156.0)} -- cycle;
\addplot[Li=cB] coordinates {(65.2,151.2)(66.47,150.7)(68.94,145.9)(70.43,141.2)(69.94,140.3)(68.45,142.2)(65.96,147.0)(64.98,150.2)(65.2,151.2)} -- cycle;
\end{axis}

\begin{axis}[tri, at={(126.6bp,26.03bp)}, cx1, ry6, bx1]
\addplot[Lo=cG] coordinates {(0.234,148.81)(0.173,153.92)(0.027,154.5)(-0.119,150.22)(-0.18,143.59)(-0.119,138.48)(0.027,137.9)(0.173,142.18)(0.234,148.81)} -- cycle;
\addplot[Li=cG] coordinates {(0.154,147.82)(0.117,150.99)(0.027,151.35)(-0.063,148.69)(-0.1,144.58)(-0.063,141.41)(0.027,141.05)(0.117,143.71)(0.154,147.82)} -- cycle;
\addplot[Lo=cK] coordinates {(0.25,150.64)(0.18,156.39)(0.01,157.05)(-0.16,152.23)(-0.23,144.76)(-0.16,139.01)(0.01,138.35)(0.18,143.17)(0.25,150.64)} -- cycle;
\addplot[Li=cK] coordinates {(0.16,149.5)(0.116,153.02)(0.01,153.42)(-0.096,150.47)(-0.14,145.9)(-0.096,142.38)(0.01,141.98)(0.116,144.93)(0.16,149.5)} -- cycle;
\addplot[Lo=cR] coordinates {(0.215,150.59)(0.149,156.05)(-0.01,156.67)(-0.169,152.1)(-0.235,145.01)(-0.169,139.55)(-0.01,138.93)(0.149,143.5)(0.215,150.59)} -- cycle;
\addplot[Li=cR] coordinates {(0.13,149.54)(0.089,152.94)(-0.01,153.33)(-0.109,150.48)(-0.15,146.06)(-0.109,142.66)(-0.01,142.27)(0.089,145.12)(0.13,149.54)} -- cycle;
\addplot[Lo=cB] coordinates {(0.287,149.12)(0.213,154.43)(0.035,155.03)(-0.143,150.58)(-0.217,143.68)(-0.143,138.37)(0.035,137.77)(0.213,142.22)(0.287,149.12)} -- cycle;
\addplot[Li=cB] coordinates {(0.198,147.49)(0.153,150.6)(0.045,150.96)(-0.063,148.35)(-0.108,144.31)(-0.063,141.2)(0.045,140.84)(0.153,143.45)(0.198,147.49)} -- cycle;
\end{axis}

\begin{axis}[tri, at={(220.2bp,26.03bp)}, cx2, ry6, bx2]
\addplot[Lo=cG] coordinates {(-0.62,154)(-0.35,155.5)(-0.2,154.5)(-0.05,151)(0.0,145)(-0.02,140)(-0.15,138)(-0.4,137.5)(-0.62,139)(-0.62,154)} -- cycle;
\addplot[Li=cG] coordinates {(-0.25,146)(-0.294,149.54)(-0.4,151)(-0.506,149.54)(-0.55,146)(-0.506,142.46)(-0.4,141)(-0.294,142.46)(-0.25,146)} -- cycle;
\addplot[Lo=cK] coordinates {(-0.18,148.2)(-0.239,154.7)(-0.38,157.4)(-0.521,154.7)(-0.58,148.2)(-0.521,141.7)(-0.38,139)(-0.239,141.7)(-0.18,148.2)} -- cycle;
\addplot[Li=cK] coordinates {(-0.26,148)(-0.295,151.89)(-0.38,153.5)(-0.465,151.89)(-0.5,148)(-0.465,144.11)(-0.38,142.5)(-0.295,144.11)(-0.26,148)} -- cycle;
\addplot[Lo=cR] coordinates {(-0.2,147.7)(-0.262,154.2)(-0.41,156.9)(-0.558,154.2)(-0.62,147.7)(-0.558,141.2)(-0.41,138.5)(-0.262,141.2)(-0.2,147.7)} -- cycle;
\addplot[Li=cR] coordinates {(-0.29,147.5)(-0.328,151.39)(-0.42,153)(-0.512,151.39)(-0.55,147.5)(-0.512,143.61)(-0.42,142)(-0.328,143.61)(-0.29,147.5)} -- cycle;
\addplot[Lo=cB] coordinates {(-0.218,146.2)(-0.319,152.78)(-0.563,155.5)(-0.807,152.78)(-0.908,146.2)(-0.807,139.62)(-0.563,136.9)(-0.319,139.62)(-0.218,146.2)} -- cycle;
\addplot[Li=cB] coordinates {(-0.345,146)(-0.398,150.14)(-0.527,151.85)(-0.656,150.14)(-0.709,146)(-0.656,141.86)(-0.527,140.15)(-0.398,141.86)(-0.345,146)} -- cycle;
\end{axis}

\begin{axis}[tri, at={(313.8bp,26.03bp)}, cx3, ry6, bx3]
\addplot[Lo=cG] coordinates {(5.5,145.7)(4.26,152.34)(-0.7,154.0)(-5.66,152.34)(-6.9,145.7)(-5.66,139.06)(-0.7,137.4)(4.26,139.06)(5.5,145.7)} -- cycle;
\addplot[Li=cG] coordinates {(3,145.5)(2.2,148.94)(-1,149.8)(-4.2,148.94)(-5,145.5)(-4.2,142.06)(-1,141.2)(2.2,142.06)(3,145.5)} -- cycle;
\addplot[Lo=cK] coordinates {(2.3,148)(1.656,154.72)(0.1,157.5)(-1.456,154.72)(-2.1,148)(-1.456,141.28)(0.1,138.5)(1.656,141.28)(2.3,148)} -- cycle;
\addplot[Li=cK] coordinates {(1.4,148)(1.05,151.54)(0.2,153)(-0.65,151.54)(-1.0,148)(-0.65,144.46)(0.2,143)(1.05,144.46)(1.4,148)} -- cycle;
\addplot[Lo=cR] coordinates {(2.0,147.8)(1.356,154.38)(-0.2,157.1)(-1.756,154.38)(-2.4,147.8)(-1.756,141.22)(-0.2,138.5)(1.356,141.22)(2.0,147.8)} -- cycle;
\addplot[Li=cR] coordinates {(0.2,147)(-0.15,150.18)(-1.0,151.5)(-1.85,150.18)(-2.2,147)(-1.85,143.82)(-1.0,142.5)(-0.15,143.82)(0.2,147)} -- cycle;
\addplot[Lo=cB] coordinates {(5.65,146.3)(4.7,153.16)(2.4,156.0)(0.1,153.16)(-0.85,146.3)(0.1,139.44)(2.4,136.6)(4.7,139.44)(5.65,146.3)} -- cycle;
\addplot[Li=cB] coordinates {(4.9,146.3)(4.285,150.33)(2.8,152.0)(1.315,150.33)(0.7,146.3)(1.315,142.27)(2.8,140.6)(4.285,142.27)(4.9,146.3)} -- cycle;
\end{axis}

\begin{axis}[tri, at={(407.4bp,26.03bp)}, cx4, ry6, bx4]
\addplot[Lo=cG] coordinates {(-75,154.1)(-12.2,154.1)(27.4,153.4)(42.3,149.8)(44.7,145.9)(37.3,140.6)(7.6,138.5)(-32,138)(-75,137.1)(-75,154.1)} -- cycle;
\addplot[Li=cG] coordinates {(-75,150.9)(-22,150.2)(2.7,149.1)(7.6,145.9)(0.2,142.2)(-32,141.4)(-75,140.6)(-75,150.9)} -- cycle;
\addplot[Lo=cK] coordinates {(14.5,148)(9.8,154.22)(-1.5,156.8)(-12.8,154.22)(-17.5,148)(-12.8,141.78)(-1.5,139.2)(9.8,141.78)(14.5,148)} -- cycle;
\addplot[Li=cK] coordinates {(7,148)(4.36,151.75)(-2,153.3)(-8.36,151.75)(-11,148)(-8.36,144.25)(-2,142.7)(4.36,144.25)(7,148)} -- cycle;
\addplot[Lo=cR] coordinates {(12.6,147.8)(7.9,154.38)(-3.5,157.1)(-14.9,154.38)(-19.6,147.8)(-14.9,141.22)(-3.5,138.5)(7.9,141.22)(12.6,147.8)} -- cycle;
\addplot[Li=cR] coordinates {(4,147.5)(1.36,151.39)(-5,153)(-11.36,151.39)(-14,147.5)(-11.36,143.61)(-5,142)(1.36,143.61)(4,147.5)} -- cycle;
\addplot[Lo=cB] coordinates {(44.7,146.2)(37,153.5)(15,156)(-10,153)(-22.1,146.5)(-10,139)(15,136.4)(37,139)(44.7,146.2)} -- cycle;
\addplot[Li=cB] coordinates {(37.3,146.4)(32,150.8)(18,152.3)(4,150)(-4.8,146.3)(4,142.5)(18,140.6)(32,141.8)(37.3,146.4)} -- cycle;
\end{axis}

\begin{axis}[tri, at={(501.0bp,26.03bp)}, cx5, ry6, bx5]
\addplot[Lo=cG] coordinates {(-520,154.4)(-145.7,154.2)(102.9,153.9)(315.9,155)(530,155.5)(530,136.4)(315.9,137.1)(-74.7,139.0)(-520,137.7)(-520,154.4)} -- cycle;
\addplot[Li=cG] coordinates {(-520,150.9)(-252.2,150.5)(-74.7,149.8)(173.8,150.7)(530,151.8)(530,139.6)(173.8,139.6)(-74.7,140.0)(-520,139.8)(-520,150.9)} -- cycle;
\addplot[Lo=cK] coordinates {(-39.2,148.6)(-21.4,156)(31.9,157.3)(102.9,155.5)(138.4,156.2)(156.1,153.9)(145.5,145.4)(102.9,139.6)(31.9,138.5)(-21.4,141.2)(-39.2,148.6)} -- cycle;
\addplot[Li=cK] coordinates {(85,148)(71.8,151.89)(40,153.5)(8.2,151.89)(-5,148)(8.2,144.11)(40,142.5)(71.8,144.11)(85,148)} -- cycle;
\addplot[Lo=cR] coordinates {(49,147.8)(36.1,154.38)(5,157.1)(-26.1,154.38)(-39,147.8)(-26.1,141.22)(5,138.5)(36.1,141.22)(49,147.8)} -- cycle;
\addplot[Li=cR] coordinates {(20,149)(12.7,152.89)(-5,154.5)(-22.7,152.89)(-30,149)(-22.7,145.11)(-5,143.5)(12.7,145.11)(20,149)} -- cycle;
\addplot[Lo=cB] coordinates {(-520,150.5)(-252.2,150)(-145.7,149.6)(-39.2,151.3)(173.8,155)(530,156.6)(530,135.3)(280.3,136.7)(-39.2,138.5)(-252.2,140.4)(-520,140.6)(-520,150.5)} -- cycle;
\addplot[Li=cB] coordinates {(31.9,145.9)(102.9,149.6)(280.3,152)(530,152.8)(530,139)(280.3,139.9)(102.9,141.7)(31.9,145.9)} -- cycle;
\end{axis}

\end{tikzpicture}
\end{document}
